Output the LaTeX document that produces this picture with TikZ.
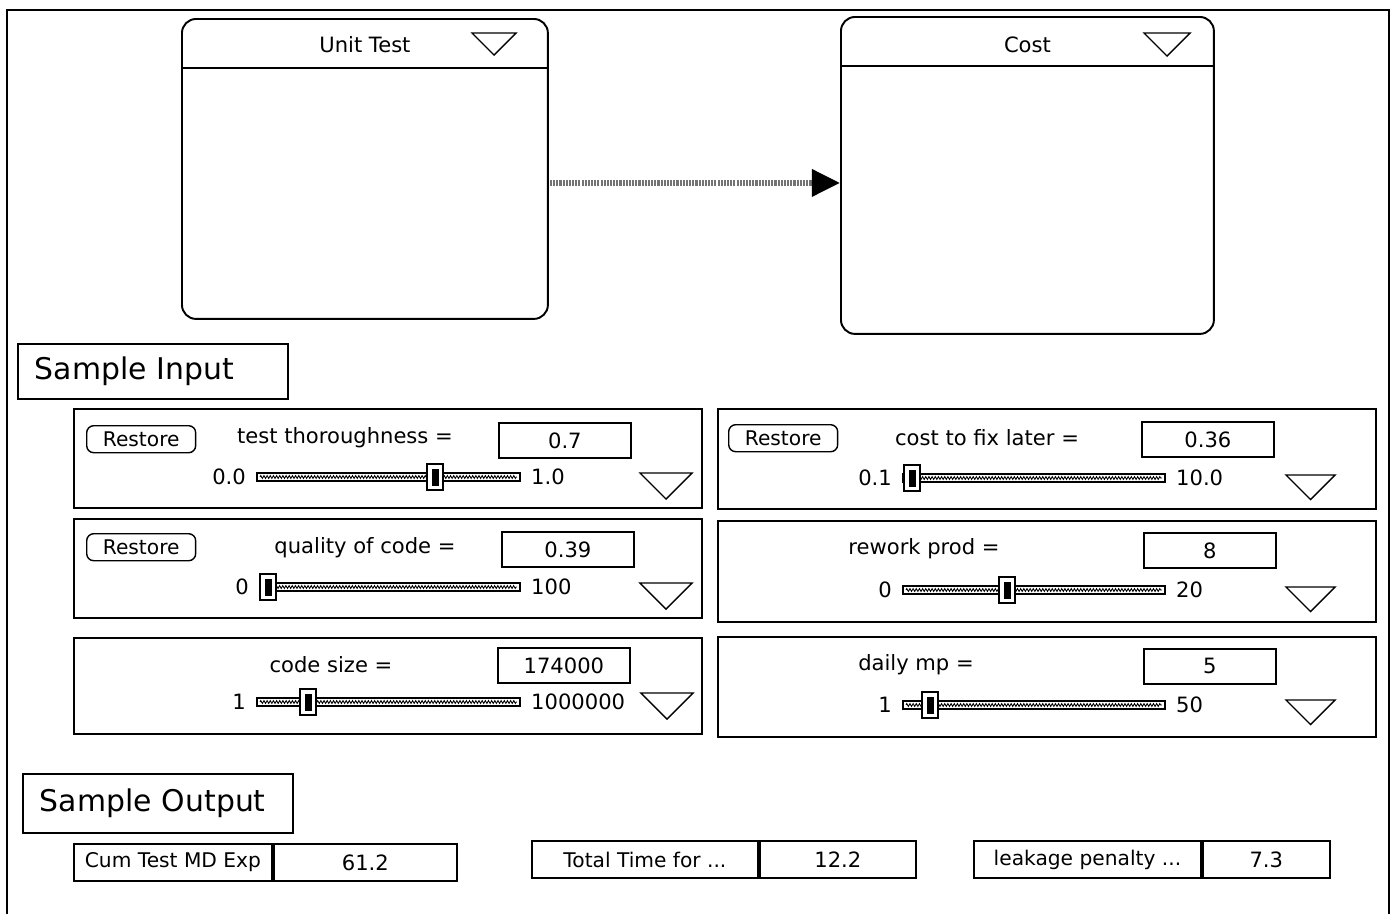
\documentclass[tikz,border=0pt]{standalone}
\usepackage{fontspec}
\setmainfont{DejaVu Sans}
\usetikzlibrary{arrows.meta,positioning,decorations.pathmorphing}

% little down-pointing menu triangle: top-left x, y, width
\newcommand{\dropdown}[3]{%
  \draw[line width=0.8pt] (#1,#2) -- ++(#3,0) -- ++(-#3/2,#3/2) -- cycle;}
% slider: name, left x, right x, y, thumb x, min, max
\newcommand{\slidebar}[7]{%
  \draw[track] (#2,#4-4) rectangle (#3,#4+4);
  \draw[trackfill] (#2+3,#4) -- (#3-3,#4);
  \node[thumb] (#1thumb) at (#5,#4) {};
  \node[thumbcore] at (#1thumb.center) {};
  \node[varlabel,anchor=east] (#1min) at (#2-5,#4) {#6};
  \node[varlabel,anchor=west] (#1max) at (#3+5,#4) {#7};}

\begin{document}
\begin{tikzpicture}[x=0.02cm,y=-0.02cm,
  modelbox/.style={draw,line width=1.1pt,rounded corners=8pt,anchor=north west,inner sep=0pt},
  paneltitle/.style={font=\fontsize{12}{14}\selectfont},
  panelbox/.style={draw,line width=1.1pt,anchor=north west,inner sep=0pt},
  headbox/.style={draw,line width=1.1pt,anchor=north west,inner xsep=0.34cm,inner ysep=0pt,text width=4.72cm,align=left,minimum height=1.1cm,font=\fontsize{17}{20}\selectfont},
  restorebtn/.style={draw,line width=0.8pt,rounded corners=4pt,anchor=north west,minimum width=2.18cm,minimum height=0.54cm,inner sep=0pt,font=\fontsize{11.5}{13}\selectfont},
  valuebox/.style={draw,line width=1pt,anchor=north west,minimum width=2.64cm,minimum height=0.7cm,inner sep=0pt,font=\fontsize{12}{14}\selectfont},
  varlabel/.style={font=\fontsize{12}{14}\selectfont},
  track/.style={draw,line width=0.8pt},
  trackfill/.style={decorate,decoration={zigzag,segment length=1.8pt,amplitude=0.8pt},line width=0.5pt},
  thumb/.style={draw,line width=0.8pt,fill=white,minimum width=0.32cm,minimum height=0.52cm,inner sep=0pt},
  thumbcore/.style={fill=black,minimum width=0.14cm,minimum height=0.34cm,inner sep=0pt},
  outname/.style={draw,line width=1.1pt,anchor=north west,minimum height=0.74cm,inner sep=0pt,font=\fontsize{11.5}{13}\selectfont},
  outval/.style={draw,line width=1.1pt,minimum height=0.74cm,inner sep=0pt,font=\fontsize{12}{14}\selectfont},
  flowarrow/.style={draw=black!55,line width=3.2pt,-{Triangle[length=16pt,width=15pt,color=black]}},
  halftone/.style={draw=white,line width=3.2pt,dash pattern=on 0.6pt off 1.2pt}]
  \useasboundingbox (0,0) rectangle (1394,914);
  \draw[line width=1.1pt] (7,914) -- (7,10) -- (1389,10) -- (1389,914);

  % model blocks
  \node[modelbox,minimum width=7.32cm,minimum height=6cm] (unit) at (181,18) {};
  \draw[line width=1.1pt] ([yshift=-1cm]unit.north west) -- ([yshift=-1cm]unit.north east);
  \node[paneltitle] (unittitle) at ([yshift=-0.54cm]unit.north) {Unit Test};
  \dropdown{472}{33}{44}
  \node[modelbox,minimum width=7.46cm,minimum height=6.34cm] (cost) at (840,16) {};
  \draw[line width=1.1pt] ([yshift=-1cm]cost.north west) -- ([yshift=-1cm]cost.north east);
  \node[paneltitle] (costtitle) at ([yshift=-0.58cm]cost.north) {Cost};
  \dropdown{1144}{33}{46}
  \draw[flowarrow] ([yshift=-0.28cm]unit.east) -- ([yshift=-0.28cm]unit.east -| cost.west);
  \draw[halftone] ([yshift=-0.28cm]unit.east) -- ([yshift=-0.28cm,xshift=-17pt]unit.east -| cost.west);

  % inputs
  \node[headbox] (inhead) at (17,343) {Sample Input};

  \node[panelbox,minimum width=12.56cm,minimum height=1.98cm] (thorpanel) at (73,408) {};
  \node[restorebtn] (thorbtn) at (86,425) {Restore};
  \node[varlabel] (thorlbl) at (345,438) {test thoroughness =};
  \node[valuebox] (thorval) at (498,422) {0.7};
  \slidebar{thor}{257}{520}{477}{435}{0.0}{1.0}
  \dropdown{640}{473}{52}

  \node[panelbox,minimum width=12.56cm,minimum height=1.98cm] (qualpanel) at (73,518) {};
  \node[restorebtn] (qualbtn) at (86,533) {Restore};
  \node[varlabel] (quallbl) at (365,548) {quality of code =};
  \node[valuebox] (qualval) at (501,531) {0.39};
  \slidebar{qual}{260}{520}{587}{268}{0}{100}
  \dropdown{640}{583}{52}

  \node[panelbox,minimum width=12.56cm,minimum height=1.92cm] (sizepanel) at (73,637) {};
  \node[varlabel] (sizelbl) at (331,665) {code size =};
  \node[valuebox] (sizeval) at (497,647) {174000};
  \slidebar{size}{257}{520}{702}{308}{1}{1000000}
  \dropdown{641}{693}{52}

  \node[panelbox,minimum width=13.16cm,minimum height=2cm] (fixpanel) at (717,408) {};
  \node[restorebtn] (fixbtn) at (728,424) {Restore};
  \node[varlabel] (fixlbl) at (987,438) {cost to fix later =};
  \node[valuebox] (fixval) at (1141,421) {0.36};
  \slidebar{fix}{903}{1165}{478}{912}{0.1}{10.0}
  \dropdown{1286}{475}{49}

  \node[panelbox,minimum width=13.16cm,minimum height=2.02cm] (reworkpanel) at (717,520) {};
  \node[varlabel] (reworklbl) at (924,549) {rework prod =};
  \node[valuebox] (reworkval) at (1143,532) {8};
  \slidebar{rework}{903}{1165}{590}{1007}{0}{20}
  \dropdown{1286}{587}{49}

  \node[panelbox,minimum width=13.16cm,minimum height=2cm] (mppanel) at (717,636) {};
  \node[varlabel] (mplbl) at (916,665) {daily mp =};
  \node[valuebox] (mpval) at (1143,648) {5};
  \slidebar{mp}{903}{1165}{705}{930}{1}{50}
  \dropdown{1286}{700}{49}

  % outputs
  \node[headbox,text width=4.72cm,minimum height=1.18cm] (outhead) at (22,773) {Sample Output};
  \node[outname,minimum width=3.96cm] (cumname) at (73,843) {Cum Test MD Exp};
  \node[outval,minimum width=3.66cm,right=0pt of cumname] (cumval) {61.2};
  \node[outname,minimum width=4.52cm] (timename) at (531,840) {Total Time for ...};
  \node[outval,minimum width=3.12cm,right=0pt of timename] (timeval) {12.2};
  \node[outname,minimum width=4.54cm] (leakname) at (973,840) {leakage penalty ...};
  \node[outval,minimum width=2.54cm,right=0pt of leakname] (leakval) {7.3};
\end{tikzpicture}
\end{document}
